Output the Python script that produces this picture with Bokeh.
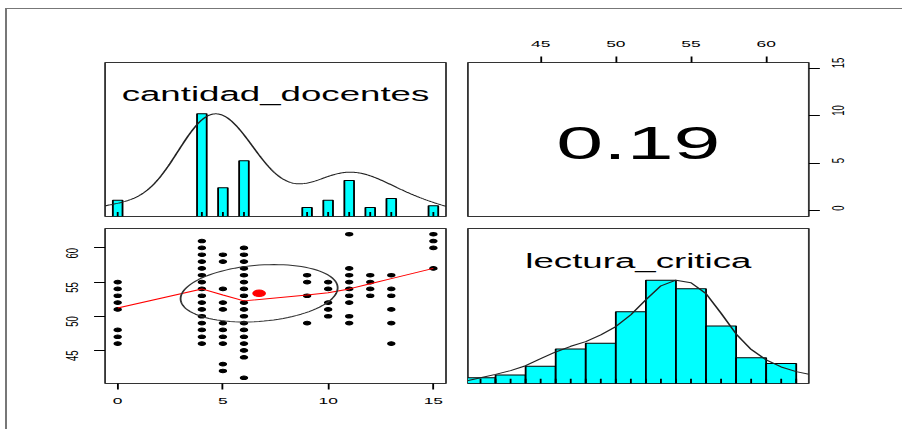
import numpy as np
from bokeh.plotting import figure
from bokeh.layouts import row, column
from bokeh.models import Range1d, LinearAxis, FixedTicker, InlineStyleSheet
from bokeh.core.properties import value
from bokeh.embed import file_html
from bokeh.resources import INLINE

# ---------------- data ----------------
var_names = ["cantidad_docentes", "lectura_critica"]
correlation = 0.19

docentes_values = [0, 4, 5, 6, 9, 10, 11, 12, 13, 15]
docentes_counts = [9, 57, 16, 31, 5, 9, 20, 5, 10, 6]
docentes_bw = 1.6          # density bandwidth

lectura_bin_edges = [40, 42, 44, 46, 48, 50, 52, 54, 56, 58, 60, 62]
lectura_counts = [2, 3, 6, 12, 14, 25, 36, 33, 20, 9, 7]

lectura_density_x = [40.1, 41, 42, 43, 44, 45, 46, 47, 48, 49, 50, 51, 52, 53, 54, 55, 56,
                     57, 58, 59, 60, 61, 62, 62.85]
lectura_density_y = [0.026, 0.055, 0.088, 0.125, 0.172, 0.24, 0.305, 0.36, 0.405, 0.47,
                     0.551, 0.665, 0.81, 0.945, 1.0, 0.975, 0.87, 0.68, 0.48, 0.33,
                     0.228, 0.16, 0.115, 0.09]

lectura_by_docentes = {
    0: [55, 54, 53, 52, 51, 48, 47, 46],
    4: [61, 60, 59, 58, 57, 56, 55, 54, 53, 52, 51, 50, 49, 48, 47, 46],
    5: [59, 58, 54, 52, 51, 49, 48, 47, 46, 43, 42],
    6: [60, 59, 58, 57, 56, 55, 54, 53, 52, 51, 50, 49, 48, 47, 46, 45, 44, 41],
    9: [56, 55, 53, 49],
    10: [55, 54, 52, 51, 50],
    11: [62, 57, 56, 55, 54, 53, 52, 50, 49],
    12: [56, 55, 54, 53],
    13: [56, 54, 53, 51, 49, 46],
    15: [62, 61, 60, 57],
}

lowess_x = [0, 4, 5, 6, 9, 10, 11, 12, 13, 15]
lowess_y = [51.2, 54.0, 53.1, 52.25, 53.1, 53.45, 54.0, 54.75, 55.5, 57.0]

lectura_mean = 53.36
lectura_sd = 4.2

docentes_ticks = [0, 5, 10, 15]
lectura_ticks = [45, 50, 55, 60]

# ---------------- derived ----------------
scatter_x = [k for k, vals in lectura_by_docentes.items() for _ in vals]
scatter_y = [v for vals in lectura_by_docentes.values() for v in vals]
lectura_rug = sorted(set(scatter_y))

samples = np.repeat(docentes_values, docentes_counts).astype(float)
docentes_mean = samples.mean()
docentes_sd = samples.std(ddof=1)
kde_x = np.linspace(samples.min() - 3 * docentes_bw, samples.max() + 3 * docentes_bw, 512)
kde_y = np.exp(-0.5 * ((kde_x[:, None] - samples[None, :]) / docentes_bw) ** 2).sum(axis=1)
kde_y = kde_y / kde_y.max()

def padded(lo, hi):
    d = 0.04 * (hi - lo)
    return (lo - d, hi + d)

xr_doc = padded(min(docentes_values), max(docentes_values))
xr_lec = padded(min(scatter_y), max(scatter_y))
hist_top = 1.5

# correlation ellipse (psych style)
theta = 1 / np.sqrt(2)
ang = np.linspace(0, 2 * np.pi, 101)
ex = np.cos(ang) * np.sqrt(1 + correlation) * theta - np.sin(ang) * np.sqrt(1 - correlation) * theta
ey = np.cos(ang) * np.sqrt(1 + correlation) * theta + np.sin(ang) * np.sqrt(1 - correlation) * theta
ell_x = ex * docentes_sd + docentes_mean
ell_y = ey * lectura_sd + lectura_mean

FONT = "Liberation Sans"
OUTLINE = "#333333"
STRETCH = 1.833   # the reference picture is stretched horizontally

stretch_css = InlineStyleSheet(css=f"""
:host {{ overflow: hidden; }}
.bk-Canvas {{ transform: scaleX({STRETCH}); transform-origin: 0 0; }}
""")

def panel(xr, yr, width, bl, bt, bb, fh):
    p = figure(frame_width=186, frame_height=fh,
               x_range=Range1d(*xr), y_range=Range1d(*yr),
               min_border_left=bl, min_border_right=width - bl - 186,
               min_border_top=bt, min_border_bottom=bb,
               toolbar_location=None, output_backend="svg",
               x_axis_location=None, y_axis_location=None,
               background_fill_color="white", border_fill_color="white",
               outline_line_color=OUTLINE, outline_line_width=1,
               stylesheets=[stretch_css])
    p.grid.visible = False
    return p

def style_axis(ax, ticks, vertical=False, standoff=9):
    ax.ticker = FixedTicker(ticks=ticks)
    ax.axis_line_color = None
    ax.major_tick_in = 0
    ax.major_tick_out = 6
    ax.major_tick_line_color = "black"
    ax.minor_tick_line_color = None
    ax.major_label_text_font = FONT
    ax.major_label_text_font_size = "9.5px"
    ax.major_label_text_color = "black"
    ax.major_label_standoff = standoff
    if vertical:
        ax.major_label_orientation = np.pi / 2

LEFT_W = 449
RIGHT_W = 446

# ---- top-left: histogram of cantidad_docentes ----
p_tl = panel(xr_doc, (0, hist_top), LEFT_W, 53, 53, 6, 154)
max_doc = max(docentes_counts)
p_tl.vbar(x=docentes_values, top=[c / max_doc for c in docentes_counts], bottom=0, width=0.46,
          fill_color="cyan", line_color="black", line_width=1)
p_tl.line(kde_x, kde_y, line_color="#222222", line_width=1)
p_tl.segment(x0=docentes_values, x1=docentes_values, y0=0, y1=0.045,
             line_color="black", line_width=1)
p_tl.text(x=[sum(xr_doc) / 2], y=[1.19], text=[var_names[0]], text_font=value(FONT),
          text_font_size=value("20px"), text_align="center", text_baseline="alphabetic",
          text_color="black")

# ---- top-right: correlation ----
p_tr = panel(xr_lec, xr_doc, RIGHT_W, 6, 53, 6, 154)
p_tr.text(x=[sum(xr_lec) / 2], y=[sum(xr_doc) / 2], text=[f"{correlation:.2f}"],
          text_font=value(FONT), text_font_size=value("46px"), text_align="center",
          text_baseline="middle", text_color="black", y_offset=3)
ax_top = LinearAxis()
style_axis(ax_top, lectura_ticks, standoff=9)
p_tr.add_layout(ax_top, "above")
ax_right = LinearAxis()
style_axis(ax_right, docentes_ticks, vertical=True, standoff=10)
p_tr.add_layout(ax_right, "right")

# ---- bottom-left: scatter ----
p_bl = panel(xr_doc, xr_lec, LEFT_W, 53, 6, 46, 155)
p_bl.scatter(scatter_x, scatter_y, size=3.6, fill_color="black", line_color="black")
p_bl.line(lowess_x, lowess_y, line_color="red", line_width=1)
p_bl.line(ell_x, ell_y, line_color="#333333", line_width=1)
p_bl.scatter([docentes_mean], [lectura_mean], size=6.5, fill_color="red", line_color="red")
ax_bottom = LinearAxis()
style_axis(ax_bottom, docentes_ticks, standoff=9)
p_bl.add_layout(ax_bottom, "below")
ax_left = LinearAxis()
style_axis(ax_left, lectura_ticks, vertical=True, standoff=12)
p_bl.add_layout(ax_left, "left")

# ---- bottom-right: histogram of lectura_critica ----
p_br = panel(xr_lec, (0, hist_top), RIGHT_W, 6, 6, 46, 155)
max_lec = max(lectura_counts)
p_br.quad(left=lectura_bin_edges[:-1], right=lectura_bin_edges[1:], bottom=0,
          top=[c / max_lec for c in lectura_counts],
          fill_color="cyan", line_color="black", line_width=1)
p_br.line(lectura_density_x, lectura_density_y, line_color="#222222", line_width=1)
p_br.segment(x0=lectura_rug, x1=lectura_rug, y0=0, y1=0.045, line_color="black", line_width=1)
p_br.text(x=[sum(xr_lec) / 2], y=[1.19], text=[var_names[1]], text_font=value(FONT),
          text_font_size=value("20px"), text_align="center", text_baseline="alphabetic",
          text_color="black")

layout = column(
    row(p_tl, p_tr),
    row(p_bl, p_br),
    styles={
        "margin-left": "5px",
        "margin-top": "8px",
        "border-top": "1px solid #777777",
        "border-left": "2px solid #777777",
    },
)

open("out.html", "w").write(file_html(layout, INLINE))
